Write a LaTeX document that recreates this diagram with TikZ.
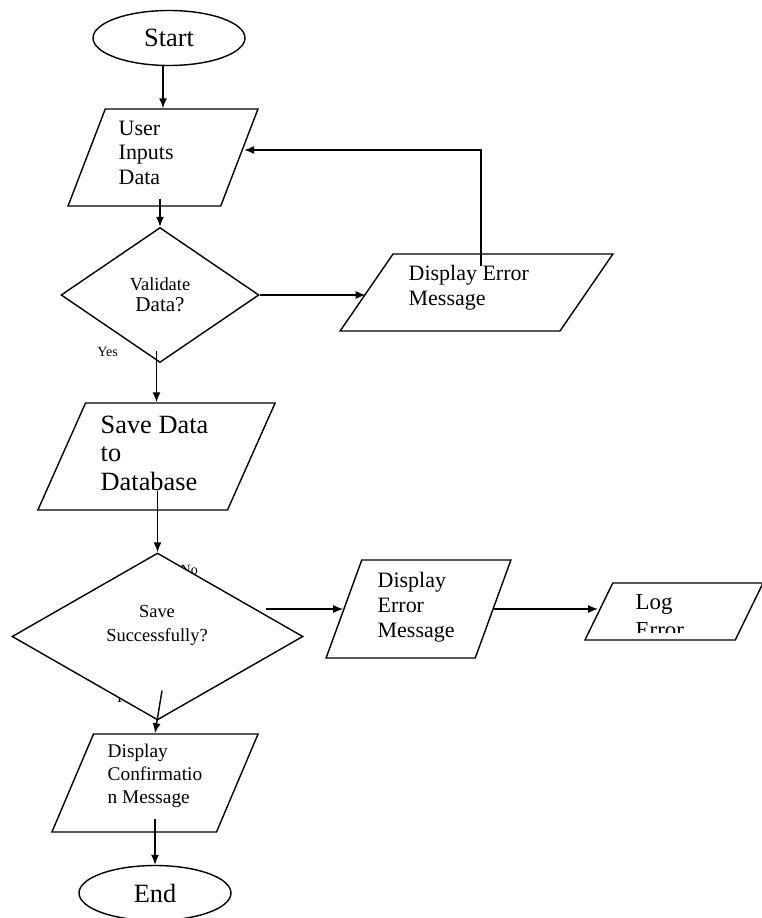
\documentclass[tikz,border=0pt]{standalone}
\usepackage{fontspec}
\setmainfont{Liberation Serif}
\usetikzlibrary{shapes.geometric,arrows.meta}

\begin{document}
\begin{tikzpicture}[x=0.02cm, y=-0.02cm, line width=0.8pt,
		>={Latex[length=2mm,width=1.6mm]},
		term/.style = {draw, ellipse, fill=white, inner sep=0, minimum width=3.04cm, minimum height=1.1cm, font=\fontsize{15}{18}\selectfont},
		io/.style 2 args = {draw, trapezium, fill=white, inner sep=0, text depth=0pt, trapezium left angle=#1, trapezium right angle=#2},
		decision/.style = {draw, diamond, fill=white, inner sep=0, align=center},
		txt/.style = {inner sep=0, align=left, anchor=north west},
		small/.style = {inner sep=0, font=\fontsize{8}{9}\selectfont}]

		\useasboundingbox (0,0) rectangle (761,918);

		\node[term] (start) at (169,38) {Start};

		\node[io={69}{111}, text width=2.31cm, text height=1.94cm] (uid) at (163,157.5) {};
		\node[txt, font=\fontsize{12.5}{14.1}\selectfont] (uidtext) at (118,120) {User\\Inputs\\Data};

		\node[decision, minimum width=3.96cm, minimum height=2.7cm] (val) at (160,295) {{\fontsize{10.5}{12}\selectfont Validate}\\{\fontsize{12}{14}\selectfont Data?}};
		\node[small] (yes) at (107.5,352) {Yes};

		\node[io={55.5}{124.5}, text width=3.34cm, text height=1.54cm] (de1) at (476.5,292.5) {};
		\node[txt, font=\fontsize{12.5}{14.1}\selectfont] (de1text) at (408,265) {Display Error\\Message};

		\node[io={66}{114}, text width=2.84cm, text height=2.14cm] (save) at (156.5,456.5) {};
		\node[txt, font=\fontsize{15}{16.4}\selectfont] (savetext) at (100,415) {Save Data\\to\\Database};

		\node[small, anchor=base west] (no) at (180,574) {No};
		\node[small, anchor=base west] (yes2) at (114,702) {Yes};
		\node[decision, minimum width=5.82cm, minimum height=3.34cm] (succ) at (157.5,636.5) {};
		\node[inner sep=0, align=center, font=\fontsize{10.5}{13.6}\selectfont] (succtext) at (157,625) {Save\\Successfully?};

		\node[io={70}{110}, text width=2.27cm, text height=1.96cm] (de2) at (418.5,609) {};
		\node[txt, font=\fontsize{12.5}{14.1}\selectfont] (de2text) at (377,572) {Display\\Error\\Message};

		\node[io={64}{116}, text width=2.45cm, text height=1.14cm] (log) at (674,611.5) {};
		\begin{scope}
			\clip (600,585) rectangle (761,632);
			\node[txt, font=\fontsize{13}{15.8}\selectfont] (logtext) at (635,594) {Log\\Error};
		\end{scope}

		\node[io={67}{113}, text width=2.46cm, text height=1.96cm] (conf) at (155,783) {};
		\node[txt, font=\fontsize{11}{13.3}\selectfont] (conftext) at (107,743) {Display\\Confirmatio\\n Message};

		\node[term] (stop) at (155,893) {End};

		\draw[->] ([xshift=-0.12cm]start.south) -- ([xshift=-0.12cm]start.south |- uid.north);
		\draw[->] ([yshift=0.16cm]val.north |- uid.south) -- (val.north);
		\draw[->] (val.east) -- (val.east -| de1.west);
		\draw[->] ([xshift=0.09cm,yshift=-0.26cm]de1.north) |- ([xshift=0.08cm,yshift=0.15cm]uid.east);
		\draw[->] ([yshift=0.24cm]save.north |- val.south) -- (save.north);
		\draw[->] ([yshift=0.4cm]succ.north |- save.south) -- (succ.north);
		\draw[->] ([xshift=-0.76cm]succ.east |- de2.west) -- (de2.west);
		\draw[->] (de2.east) -- (de2.east -| log.west);
		\draw[->] ([xshift=0.09cm,yshift=0.6cm]succ.south) -- (conf.north);
		\draw[->] ([yshift=0.28cm]stop.north |- conf.south) -- (stop.north);
	\end{tikzpicture}
\end{document}
